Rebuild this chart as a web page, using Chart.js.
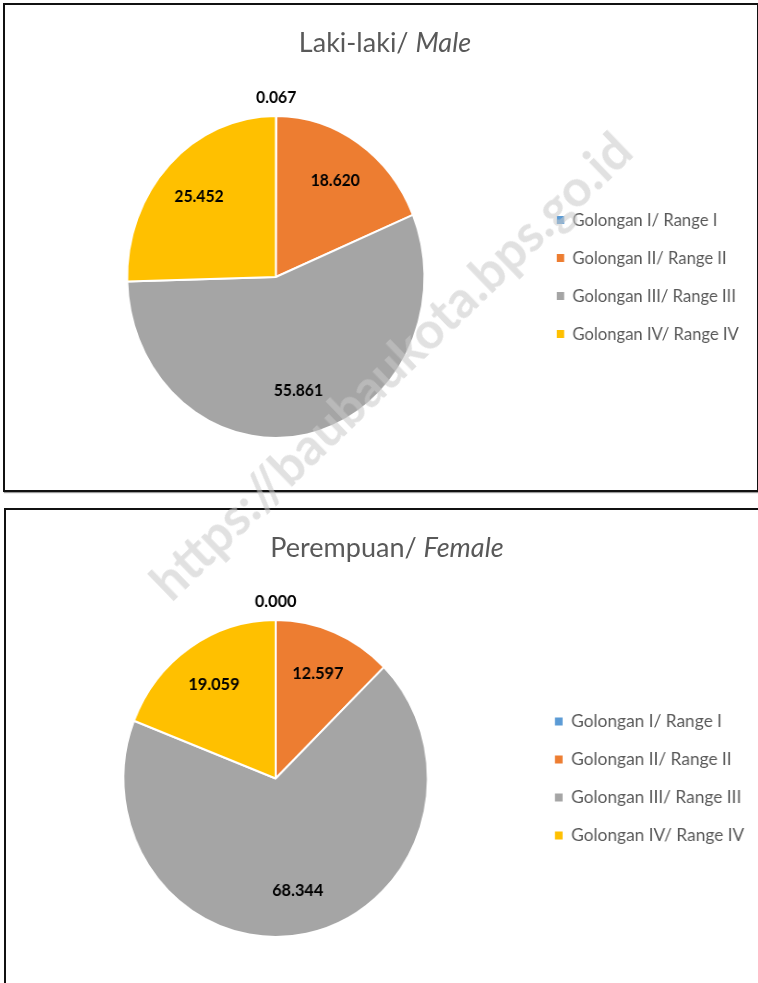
<!DOCTYPE html>
<html>
<head>
<meta charset="utf-8">
<script src="https://cdn.jsdelivr.net/npm/chart.js@4.4.0/dist/chart.umd.min.js"></script>
<style>
  body { margin: 0; width: 758px; height: 983px; overflow: hidden; background: #fff; position: relative; font-family: Lato, sans-serif; }
  .box { position: absolute; border: 2px solid #111; box-shadow: 1px 1px 1px #9a9a9a; background: #fff; overflow: hidden; }
  #box1 { left: 3px; top: 3px; width: 752px; height: 485px; }
  #box2 { left: 4px; top: 508px; width: 800px; height: 500px; }
  .title { position: absolute; left: 0; width: 760px; text-align: center; font-size: 27px; line-height: 32px; color: #595959; z-index: 2; }
  #box1 .title { top: 21px; }
  #box2 .title { top: 21px; width: 762px; }
  canvas { position: absolute; left: 0; top: 0; transform-origin: 0 0; }
  /* the original picture is slightly squeezed sideways */
  #chart1 { transform: scaleX(0.923); }
  #chart2 { transform: scaleX(0.96); }
  .wm { position: absolute; left: 390px; top: 365px; transform: translate(-50%, -50%) rotate(-44deg);
        font: bold 51px Lato, sans-serif; color: rgba(200,200,200,0.55); white-space: nowrap; pointer-events: none; z-index: 5; }
</style>
</head>
<body>
<div class="box" id="box1">
  <div class="title">Laki-laki/ <i>Male</i></div>
  <canvas id="chart1" width="812" height="485"></canvas>
</div>
<div class="box" id="box2">
  <div class="title">Perempuan/ <i>Female</i></div>
  <canvas id="chart2" width="790" height="475"></canvas>
</div>
<div class="wm">https://baubaukota.bps.go.id</div>

<script>
// golongan (range) categories
const labels_gol = ['Golongan I/ Range I', 'Golongan II/ Range II', 'Golongan III/ Range III', 'Golongan IV/ Range IV'];
const colors_gol = ['#5B9BD5', '#ED7D31', '#A5A5A5', '#FFC000'];

// percentages
const data_male = [0.067, 18.620, 55.861, 25.452];
const data_female = [0.000, 12.597, 68.344, 19.059];

// draws the value labels, tiny slices go outside above the pie
const valueLabels = {
  id: 'valueLabels',
  afterDatasetsDraw(chart) {
    const ctx = chart.ctx;
    const meta = chart.getDatasetMeta(0);
    const values = chart.data.datasets[0].data;
    ctx.save();
    ctx.font = 'bold 17px Lato, sans-serif';
    ctx.fillStyle = '#000';
    ctx.textAlign = 'center';
    ctx.textBaseline = 'middle';
    meta.data.forEach((arc, i) => {
      const mid = (arc.startAngle + arc.endAngle) / 2;
      const r = values[i] < 1 ? arc.outerRadius + 18 : arc.outerRadius * 0.72;
      const x = arc.x + Math.cos(mid) * r;
      const y = arc.y + Math.sin(mid) * r;
      ctx.fillText(values[i].toFixed(3), x, y);
    });
    ctx.restore();
  }
};

let makePie = function(id, values, padding) {
  const config = {
    type: 'pie',
    data: {
      labels: labels_gol,
      datasets: [{
        data: values,
        backgroundColor: colors_gol,
        borderColor: '#fff',
        borderWidth: 2,
        hoverOffset: 0
      }]
    },
    options: {
      responsive: false,
      animation: false,
      layout: { padding: padding },
      plugins: {
        tooltip: { enabled: false },
        legend: {
          position: 'right',
          labels: {
            boxWidth: 8,
            boxHeight: 8,
            padding: 20,
            color: '#595959',
            font: { family: 'Lato, sans-serif', size: 18 },
            generateLabels(chart) {
              const items = Chart.overrides.pie.plugins.legend.labels.generateLabels(chart);
              items.forEach(it => { it.lineWidth = 0; it.hidden = false; });
              return items;
            }
          }
        }
      }
    },
    plugins: [valueLabels]
  };
  return new Chart(document.getElementById(id), config);
}

makePie('chart1', data_male, { top: 110, bottom: 51, left: 9, right: 7 });
makePie('chart2', data_female, { top: 109, bottom: 47, left: 10, right: 11 });
</script>
</body>
</html>
